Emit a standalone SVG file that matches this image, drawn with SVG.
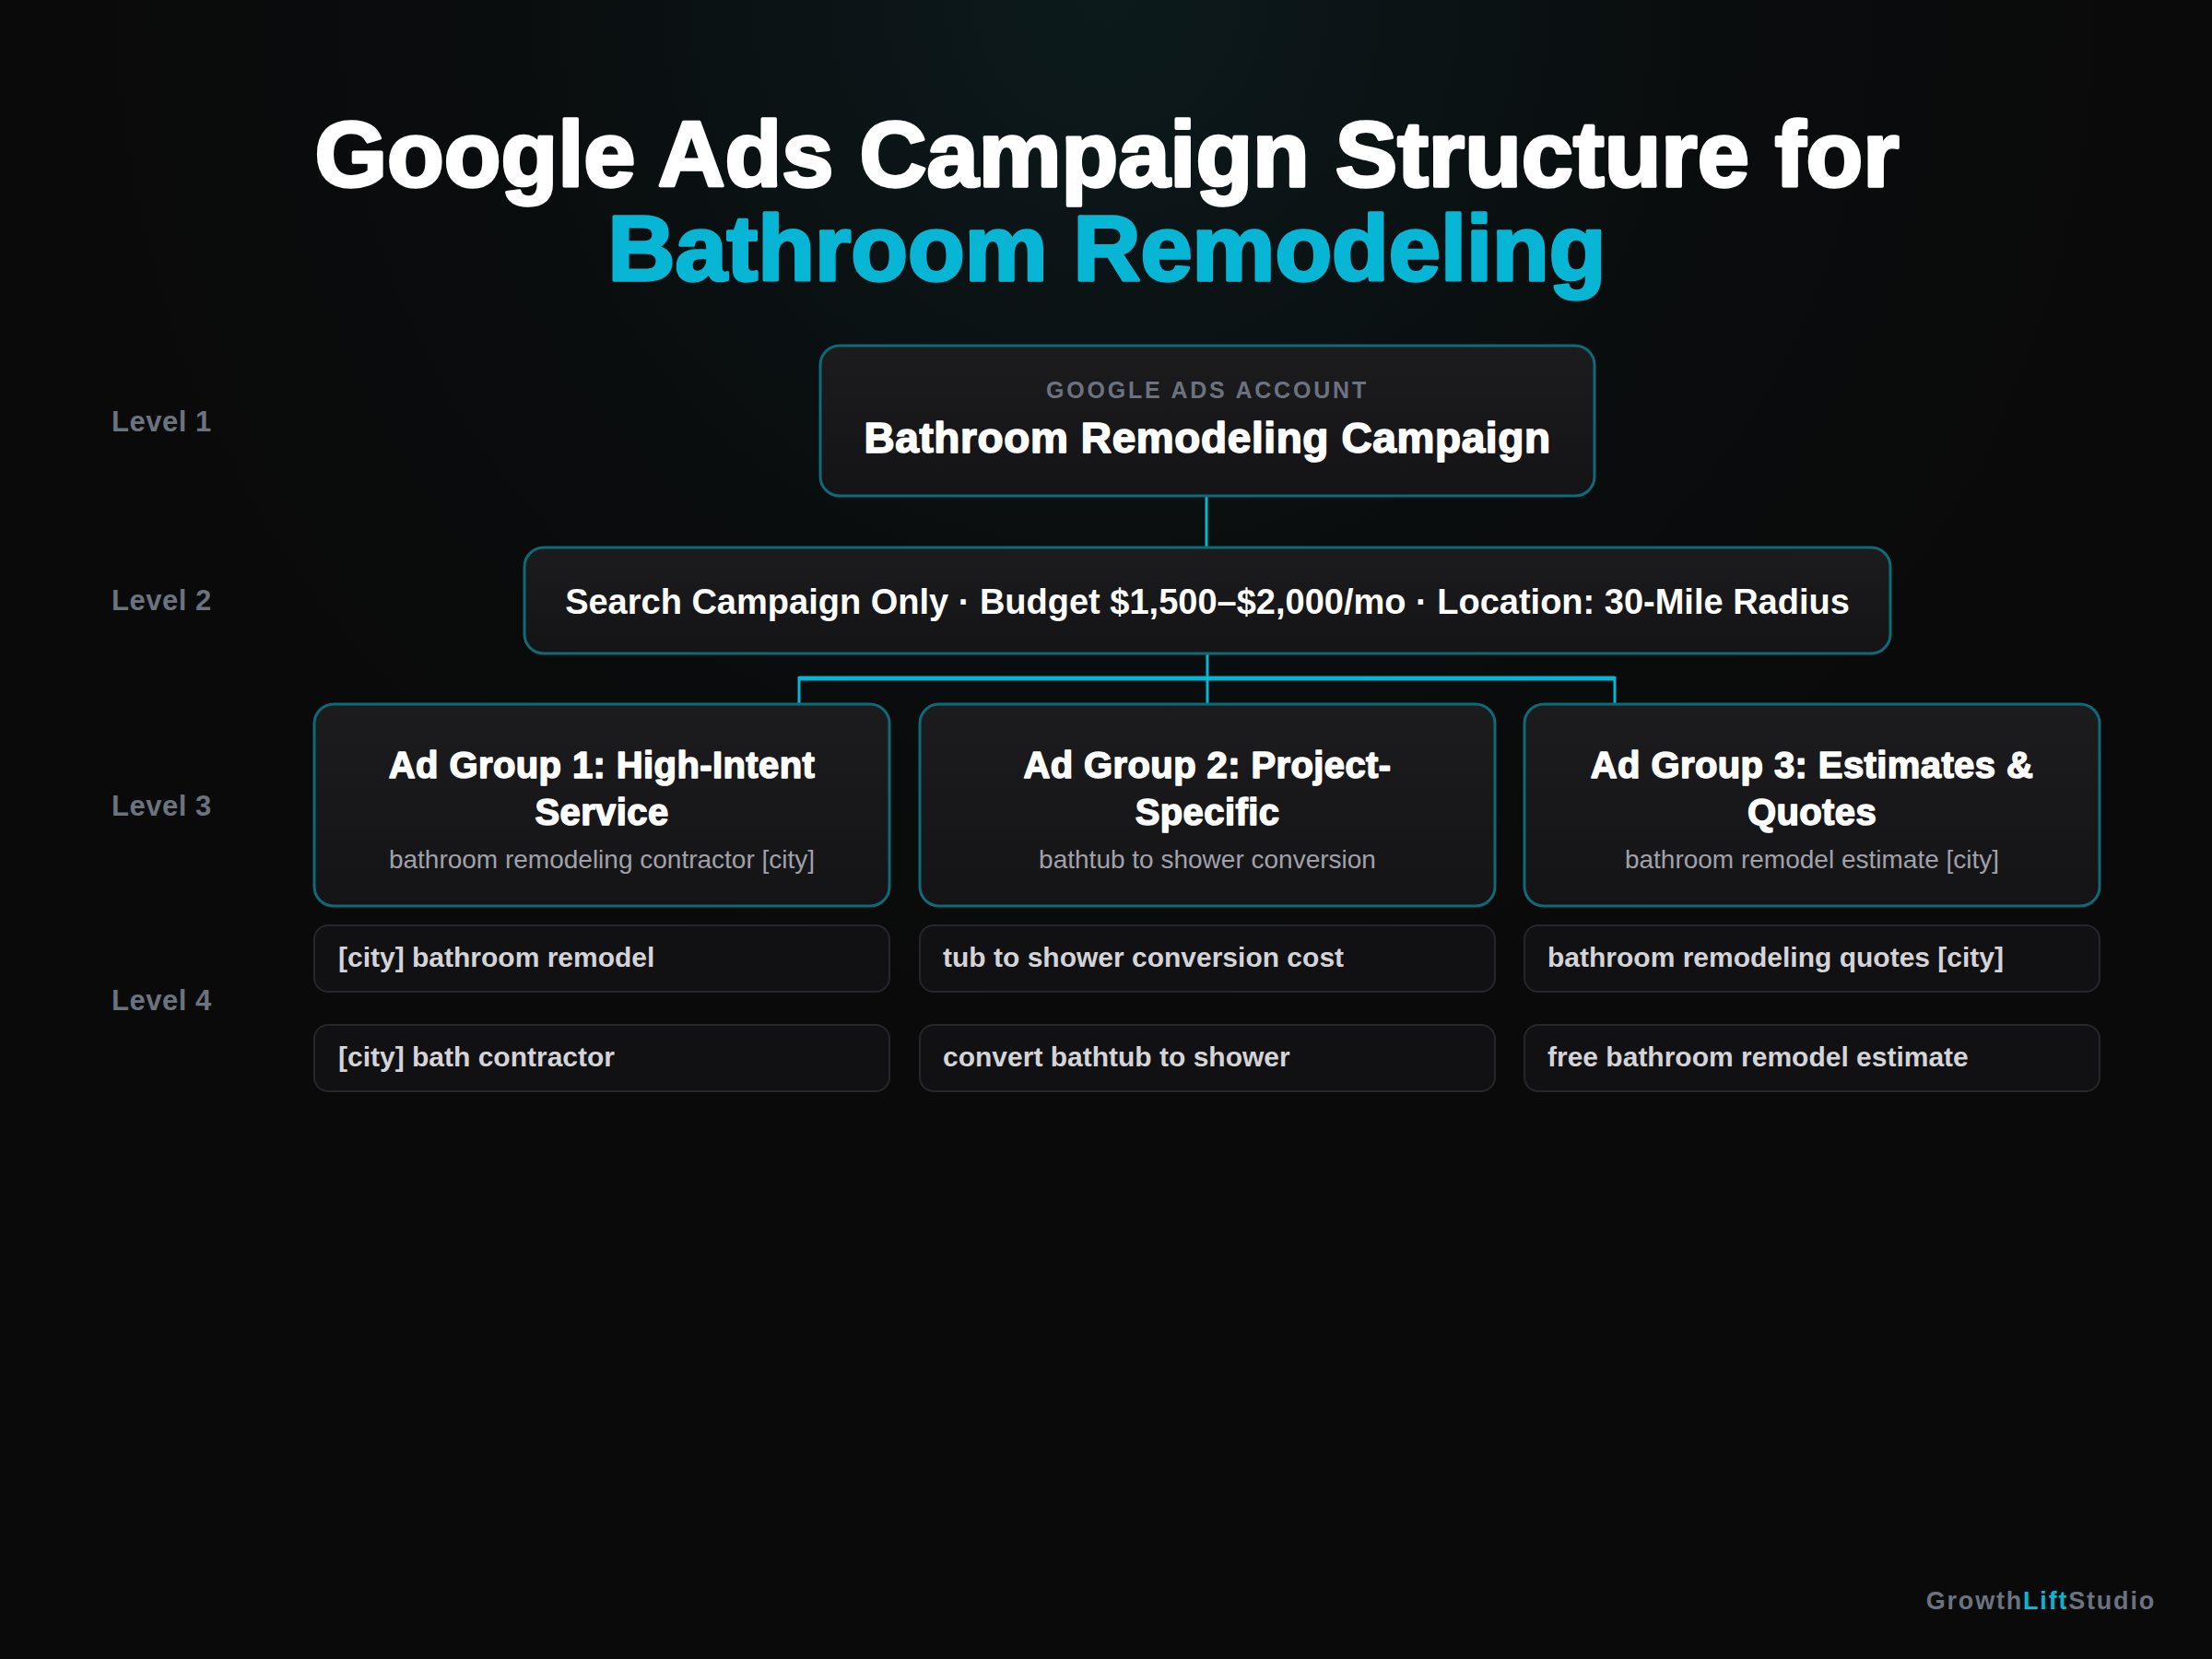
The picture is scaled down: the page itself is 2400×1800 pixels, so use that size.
<svg xmlns="http://www.w3.org/2000/svg" width="2400" height="1800" viewBox="0 0 2400 1800">
<defs>
  <radialGradient id="glow" cx="1200" cy="0" r="1100" gradientUnits="userSpaceOnUse">
    <stop offset="0" stop-color="#0c1a1c"/>
    <stop offset="0.6" stop-color="#0a0d0e"/>
    <stop offset="1" stop-color="#0a0a0a"/>
  </radialGradient>
  <linearGradient id="boxfill" x1="0" y1="0" x2="0" y2="1">
    <stop offset="0" stop-color="#1c1c1f"/>
    <stop offset="1" stop-color="#141417"/>
  </linearGradient>
</defs>
<style>
  .bg { fill: #0a0a0a; }
  .main { fill: url(#boxfill); stroke: #0f6a78; stroke-width: 3; }
  .kw { fill: #111113; stroke: #27272b; stroke-width: 2; }
  .conn { stroke: #06b6d4; stroke-width: 3; fill: none; }
  .bar { stroke: #06b6d4; stroke-width: 5; fill: none; }
  .lvl { font-family: "Liberation Sans", Arial, sans-serif; font-weight: bold; font-size: 31px; fill: #6b7280; letter-spacing: 0.5px; }
  .h1 { font-family: "Liberation Sans", Arial, sans-serif; font-weight: bold; font-size: 101px; text-anchor: middle; stroke-width: 3.5; stroke-linejoin: round; }
  .tag { font-family: "Liberation Sans", Arial, sans-serif; font-weight: bold; font-size: 25px; fill: #6b7280; letter-spacing: 2.8px; text-anchor: middle; }
  .l1 { font-family: "Liberation Sans", Arial, sans-serif; font-weight: bold; font-size: 46px; fill: #ffffff; stroke: #ffffff; stroke-width: 1.6; stroke-linejoin: round; letter-spacing: 0.6px; text-anchor: middle; }
  .l2 { font-family: "Liberation Sans", Arial, sans-serif; font-weight: bold; font-size: 38px; fill: #ffffff; text-anchor: middle; }
  .l3 { font-family: "Liberation Sans", Arial, sans-serif; font-weight: bold; font-size: 40px; fill: #ffffff; stroke: #ffffff; stroke-width: 1.5; stroke-linejoin: round; letter-spacing: 0.4px; text-anchor: middle; }
  .sub { font-family: "Liberation Sans", Arial, sans-serif; font-size: 28px; fill: #a1a1aa; text-anchor: middle; }
  .l4 { font-family: "Liberation Sans", Arial, sans-serif; font-weight: bold; font-size: 30px; fill: #d4d4d8; }
  .foot { font-family: "Liberation Sans", Arial, sans-serif; font-weight: bold; font-size: 27px; fill: #6b7280; letter-spacing: 1.8px; text-anchor: end; }
</style>
<rect class="bg" x="0" y="0" width="2400" height="1800"/>
<rect x="0" y="0" width="2400" height="1800" fill="url(#glow)"/>

<g id="title">
  <text class="h1" x="1201" y="202" fill="#ffffff" stroke="#ffffff">Google Ads Campaign Structure for</text>
  <text class="h1" x="1201" y="304" fill="#06b6d4" stroke="#06b6d4">Bathroom Remodeling</text>
</g>

<g id="level-labels">
  <text class="lvl" x="121" y="468">Level 1</text>
  <text class="lvl" x="121" y="662">Level 2</text>
  <text class="lvl" x="121" y="885">Level 3</text>
  <text class="lvl" x="121" y="1096">Level 4</text>
</g>

<g id="connectors">
  <line class="conn" x1="1309" y1="538" x2="1309" y2="594"/>
  <line class="conn" x1="1310" y1="709" x2="1310" y2="764"/>
  <line class="bar" x1="867" y1="736" x2="1752" y2="736"/>
  <line class="conn" x1="867" y1="734" x2="867" y2="764"/>
  <line class="conn" x1="1752" y1="734" x2="1752" y2="764"/>
</g>

<g id="account">
  <rect class="main" x="890" y="375" width="840" height="163" rx="21"/>
  <text class="tag" x="1310" y="432">GOOGLE ADS ACCOUNT</text>
  <text class="l1" x="1310" y="491">Bathroom Remodeling Campaign</text>
</g>

<g id="campaign">
  <rect class="main" x="569" y="594" width="1482" height="115" rx="21"/>
  <text class="l2" x="1310" y="666">Search Campaign Only · Budget $1,500–$2,000/mo · Location: 30-Mile Radius</text>
</g>

<g id="adgroup-1">
  <rect class="main" x="341" y="764" width="624" height="219" rx="21"/>
  <text class="l3" x="653" y="844">Ad Group 1: High-Intent</text>
  <text class="l3" x="653" y="895">Service</text>
  <text class="sub" x="653" y="942">bathroom remodeling contractor [city]</text>
</g>
<g id="adgroup-2">
  <rect class="main" x="998" y="764" width="624" height="219" rx="21"/>
  <text class="l3" x="1310" y="844">Ad Group 2: Project-</text>
  <text class="l3" x="1310" y="895">Specific</text>
  <text class="sub" x="1310" y="942">bathtub to shower conversion</text>
</g>
<g id="adgroup-3">
  <rect class="main" x="1654" y="764" width="624" height="219" rx="21"/>
  <text class="l3" x="1966" y="844">Ad Group 3: Estimates &amp;</text>
  <text class="l3" x="1966" y="895">Quotes</text>
  <text class="sub" x="1966" y="942">bathroom remodel estimate [city]</text>
</g>

<g id="kw-1a"><rect class="kw" x="341" y="1004" width="624" height="72" rx="15"/><text class="l4" x="367" y="1049">[city] bathroom remodel</text></g>
<g id="kw-1b"><rect class="kw" x="341" y="1112" width="624" height="72" rx="15"/><text class="l4" x="367" y="1157">[city] bath contractor</text></g>
<g id="kw-2a"><rect class="kw" x="998" y="1004" width="624" height="72" rx="15"/><text class="l4" x="1023" y="1049">tub to shower conversion cost</text></g>
<g id="kw-2b"><rect class="kw" x="998" y="1112" width="624" height="72" rx="15"/><text class="l4" x="1023" y="1157">convert bathtub to shower</text></g>
<g id="kw-3a"><rect class="kw" x="1654" y="1004" width="624" height="72" rx="15"/><text class="l4" x="1679" y="1049">bathroom remodeling quotes [city]</text></g>
<g id="kw-3b"><rect class="kw" x="1654" y="1112" width="624" height="72" rx="15"/><text class="l4" x="1679" y="1157">free bathroom remodel estimate</text></g>

<g id="footer">
  <text class="foot" x="2339" y="1746">Growth<tspan fill="#06b6d4">Lift</tspan>Studio</text>
</g>
</svg>
